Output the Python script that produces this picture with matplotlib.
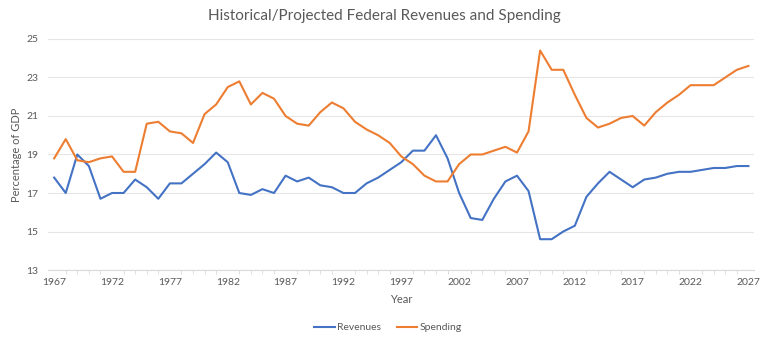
import numpy as np
import matplotlib.pyplot as plt

plt.rcParams['font.family'] = ['Lato', 'DejaVu Sans']

years = list(range(1967, 2028))

revenues = [17.8, 17.0, 19.0, 18.4, 16.7, 17.0, 17.0, 17.7, 17.3, 16.7,
            17.5, 17.5, 18.0, 18.5, 19.1, 18.6, 17.0, 16.9, 17.2, 17.0,
            17.9, 17.6, 17.8, 17.4, 17.3, 17.0, 17.0, 17.5, 17.8, 18.2,
            18.6, 19.2, 19.2, 20.0, 18.8, 17.0, 15.7, 15.6, 16.7, 17.6,
            17.9, 17.1, 14.6, 14.6, 15.0, 15.3, 16.8, 17.5, 18.1, 17.7,
            17.3, 17.7, 17.8, 18.0, 18.1, 18.1, 18.2, 18.3, 18.3, 18.4,
            18.4]

spending = [18.8, 19.8, 18.7, 18.6, 18.8, 18.9, 18.1, 18.1, 20.6, 20.7,
            20.2, 20.1, 19.6, 21.1, 21.6, 22.5, 22.8, 21.6, 22.2, 21.9,
            21.0, 20.6, 20.5, 21.2, 21.7, 21.4, 20.7, 20.3, 20.0, 19.6,
            18.9, 18.5, 17.9, 17.6, 17.6, 18.5, 19.0, 19.0, 19.2, 19.4,
            19.1, 20.2, 24.4, 23.4, 23.4, 22.1, 20.9, 20.4, 20.6, 20.9,
            21.0, 20.5, 21.2, 21.7, 22.1, 22.6, 22.6, 22.6, 23.0, 23.4,
            23.6]

major_years = list(range(1967, 2028, 5))
y_ticks = [13, 15, 17, 19, 21, 23, 25]

text_gray = '#595959'
grid_gray = '#e6e6e6'

fig = plt.figure(figsize=(7.68, 3.42), dpi=100)
ax = fig.add_axes([0.063, 0.2105, 0.919, 0.6755])

ax.plot(years, revenues, color='#4472C4', lw=1.5, label='Revenues')
ax.plot(years, spending, color='#ED7D31', lw=1.5, label='Spending')

ax.set_xlim(1966.5, 2027.5)
ax.set_ylim(13, 25)
ax.set_xticks(major_years)
ax.set_xticks(years, minor=True)
ax.set_yticks(y_ticks)
ax.grid(axis='y', color=grid_gray, lw=0.8)
ax.set_axisbelow(True)

for s in ['top', 'right', 'left']:
    ax.spines[s].set_visible(False)
ax.spines['bottom'].set_color('#d9d9d9')

ax.tick_params(axis='y', length=0, labelsize=7.5, labelcolor=text_gray, pad=7)
ax.tick_params(axis='x', which='major', length=0, labelsize=7.5,
               labelcolor=text_gray, pad=6)
ax.tick_params(axis='x', which='minor', length=3, color='#d9d9d9')

ax.set_xlabel('Year', fontsize=8, color=text_gray, labelpad=5)
ax.set_ylabel('Percentage of GDP', fontsize=8, color=text_gray, labelpad=3)
fig.suptitle('Historical/Projected Federal Revenues and Spending',
             fontsize=11, color=text_gray, y=0.975)

leg = fig.legend(loc='center', bbox_to_anchor=(0.505, 0.042), ncol=2,
                 frameon=False, fontsize=7.5, handlelength=2.0,
                 handletextpad=0.2, columnspacing=1.5)
for t in leg.get_texts():
    t.set_color(text_gray)

fig.savefig('out.png', dpi=100)
